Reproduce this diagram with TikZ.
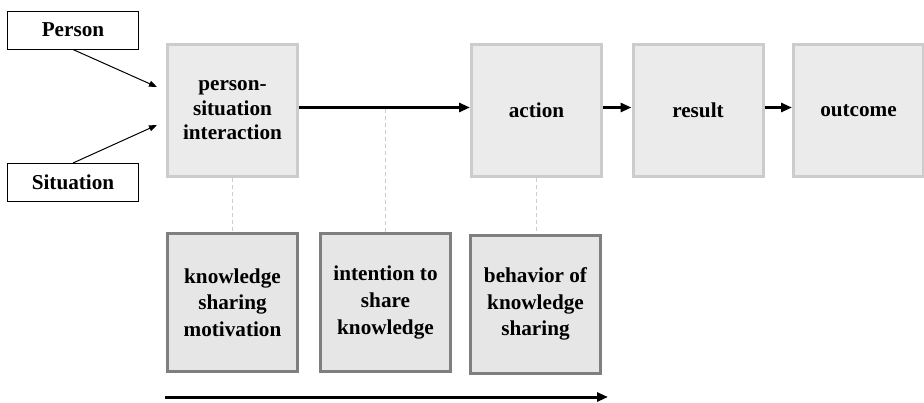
\documentclass[tikz,border=0pt]{standalone}
\usepackage{fontspec}
\setmainfont{Liberation Serif}
\usetikzlibrary{arrows.meta}
\definecolor{boxgray}{HTML}{EBEBEB}
\definecolor{boxline}{HTML}{CCCCCC}
\definecolor{lowgray}{HTML}{E6E6E6}
\definecolor{lowline}{HTML}{7F7F7F}
\tikzset{
    topbox/.style={draw=boxline, fill=boxgray, line width=1.5pt, minimum width=65pt, minimum height=66pt, inner sep=0pt, align=center, font=\fontsize{10.6}{12.25}\selectfont\bfseries},
    lowbox/.style={draw=lowline, fill=lowgray, line width=1.5pt, minimum width=65pt, minimum height=69pt, inner sep=0pt, align=center, font=\fontsize{10.6}{13.35}\selectfont\bfseries},
    inbox/.style={draw, fill=white, line width=0.5pt, minimum width=65.75pt, minimum height=19pt, inner sep=0pt, font=\fontsize{10.6}{12}\selectfont\bfseries},
    flow/.style={line width=1.5pt, -{Triangle[length=5.5pt,width=4.5pt]}},
    feed/.style={line width=0.5pt, -{Triangle[length=4pt,width=3pt]}},
    link/.style={boxline, line width=0.5pt, dash pattern=on 2pt off 1.5pt}
}
\begin{document}
\begin{tikzpicture}[x=0.5pt,y=-0.5pt]
            \useasboundingbox (0,0) rectangle (924,402);
            \node[inbox] (person) at (73,30) {Person};
            \node[inbox] (situation) at (73,182.5) {Situation};
            \foreach \n/\x/\t in {psi/232.5/{person-\\situation\\interaction}, act/536.5/{action}, res/698/{result}, out/858.5/{outcome}}{
                    \node[topbox] (\n) at (\x,110.5) {\t};
                }
            \foreach \n/\x/\y/\t in {kms/232.5/302.5/{knowledge\\sharing\\motivation}, ist/385.5/302.5/{intention to\\share\\knowledge}, bks/535.5/304/{behavior of\\knowledge\\sharing}}{
                    \node[lowbox] (\n) at (\x,\y) {\t};
                }
            \coordinate (pin) at (157,87);
            \coordinate (sin) at (157,125);
            \coordinate (mid) at (385.5,107.5);
            \coordinate (tstart) at (165,397);
            \coordinate (tend) at (608,397);
            \draw[link] (psi) -- (kms);
            \draw[link] (ist) -- (mid);
            \draw[link] (act.south) -- (act.south |- bks.north);
            \draw[feed] (person.south) -- (pin);
            \draw[feed] (situation.north) -- (sin);
            \foreach \a/\b in {psi/act, act/res, res/out}
            \draw[flow] ([yshift=1.5pt]\a.east) -- ([yshift=1.5pt]\b.west);
            \draw[flow] (tstart) -- (tend);
        \end{tikzpicture}
\end{document}
